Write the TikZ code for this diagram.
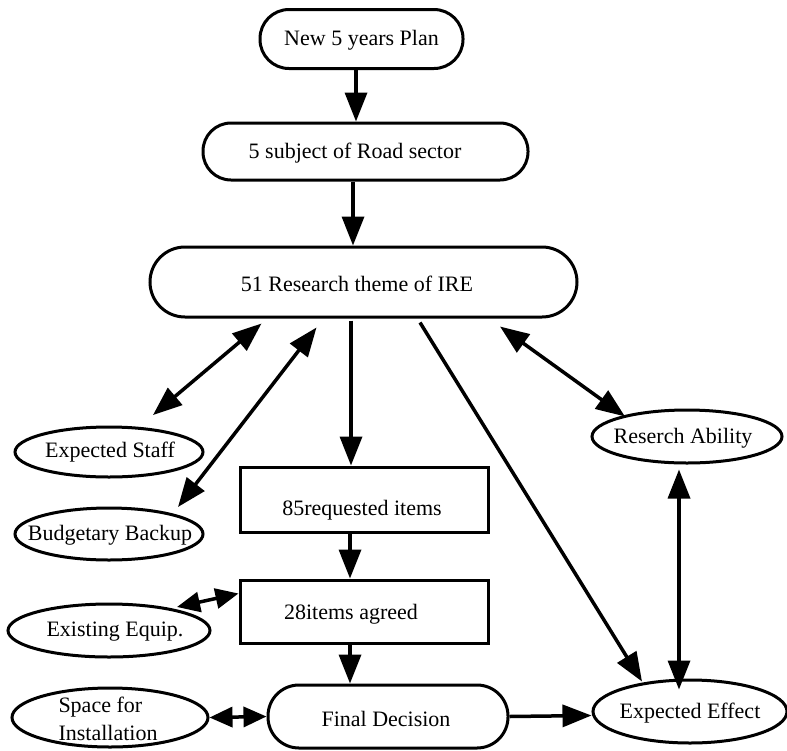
\documentclass[tikz,border=0pt]{standalone}
\usepackage{fontspec}
\setmainfont{Liberation Serif}
\usetikzlibrary{arrows.meta,shapes.geometric,calc}
\tikzset{
  box/.style={draw, line width=3pt, inner sep=0pt},
  rbox/.style={box, rounded corners=#1},
  ell/.style={draw, ellipse, line width=3pt, inner sep=0pt},
  lbl/.style={font=\fontsize{22}{28}\selectfont, inner sep=0pt},
  arr/.style={line width=3.5pt, -{Triangle[length=29pt,width=22pt]}},
  dbl/.style={line width=3.5pt, {Triangle[length=29pt,width=22pt]}-{Triangle[length=29pt,width=22pt]}},
  sdbl/.style={line width=3.5pt, {Triangle[length=23pt,width=20pt]}-{Triangle[length=23pt,width=20pt]}},
}
\begin{document}
\begin{tikzpicture}[x=1pt,y=-1pt]
\useasboundingbox[fill=white] (0,0) rectangle (787,750);
% main chain
\node[rbox=29pt, minimum width=203pt, minimum height=59pt] (plan) at (361.5,39) {};
\node[lbl] at (361.5,40) {New 5 years Plan};
\node[rbox=28pt, minimum width=325pt, minimum height=57pt] (road) at (365.5,151.5) {};
\node[lbl] at (355,153) {5 subject of Road sector};
\node[rbox=35pt, minimum width=427pt, minimum height=70pt] (ire) at (363.5,282) {};
\node[lbl] at (357,284) {51 Research theme of IRE};
\node[box, minimum width=248pt, minimum height=65pt] (req) at (364,499.5) {};
\node[lbl] at (362,510) {85requested items};
\node[box, minimum width=248pt, minimum height=63pt] (agreed) at (364,611.5) {};
\node[lbl] at (351,614) {28items agreed};
\node[rbox=31pt, minimum width=240pt, minimum height=63pt] (final) at (388,716.5) {};
\node[lbl] at (386,719) {Final Decision};
% ellipses
\node[ell, minimum width=188pt, minimum height=50pt] (staff) at (109,452) {};
\node[lbl] at (110,452) {Expected Staff};
\node[ell, minimum width=188pt, minimum height=52pt] (budget) at (109,534) {};
\node[lbl] at (110,535) {Budgetary Backup};
\node[ell, minimum width=202pt, minimum height=53pt] (equip) at (109,630.5) {};
\node[lbl] at (115,632) {Existing Equip.};
\node[ell, minimum width=196pt, minimum height=59pt] (space) at (110,717.5) {};
\node[lbl, align=left] at (108,719) {Space for\\Installation};
\node[ell, minimum width=190pt, minimum height=53pt] (ability) at (687,436.5) {};
\node[lbl] at (683,438) {Reserch Ability};
\node[ell, minimum width=194pt, minimum height=63pt] (effect) at (690,711.5) {};
\node[lbl] at (690,713) {Expected Effect};
% connectors
\draw[arr] ($(plan.south)+(-5.5,0)$) -- ($(road.north)+(-9.5,0)$);
\draw[arr] ($(road.south)+(-12.5,0)$) -- ($(ire.north)+(-10.5,0)$);
\draw[dbl] ($(ire.south west)+(113,5)$) -- ($(staff.center)+(44,-37)$);
\draw[dbl] ($(ire.south west)+(168,9)$) -- ($(budget.center)+(69,-27)$);
\draw[arr] ($(ire.south)+(-12.5,2)$) -- ($(req.north)+(-13,0)$);
\draw[arr] ($(ire.south)+(56.5,4)$) -- ($(effect.center)+(-48,-30)$);
\draw[dbl] ($(ire.south)+(136.5,8)$) -- ($(ability.center)+(-62,-20)$);
\draw[arr] ($(req.south)+(-14,0)$) -- ($(agreed.north)+(-14,0)$);
\draw[sdbl] ($(agreed.west)+(0,-18)$) -- ($(equip.center)+(68,-23.5)$);
\draw[arr] ($(agreed.south)+(-14,0)$) -- ($(final.north)+(-38,0)$);
\draw[sdbl] (space.east) -- (final.west);
\draw[arr] (final.east) -- ($(effect.west)+(0,4)$);
\draw[dbl] ($(ability.south)+(-8,5)$) -- ($(effect.north)+(-11,11)$);
\end{tikzpicture}
\end{document}
